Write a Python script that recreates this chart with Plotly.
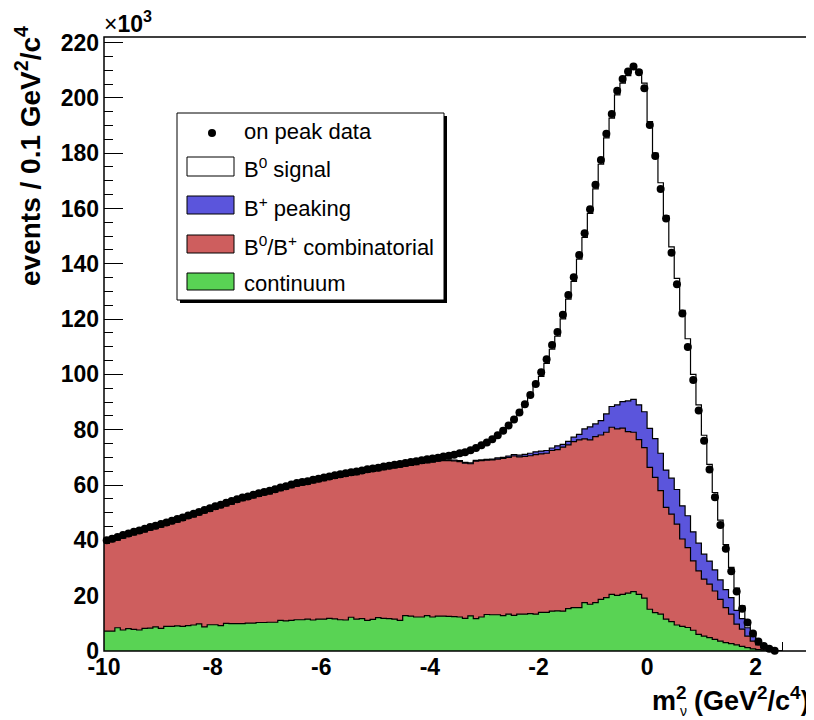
import numpy as np
import plotly.graph_objects as go

# ---------------- data (values in units of 10^3 events per 0.1 GeV^2/c^4) ----------------
BIN_LOW = -10.0
BIN_WIDTH = 0.1
N_BINS = 125

# on-peak data, bins centred at -9.95 ... 2.35
data_k = [
    40.0, 40.6, 41.2, 41.9, 42.5, 43.1, 43.6, 44.2, 44.8, 45.3,
    45.9, 46.5, 47.1, 47.7, 48.3, 49.0, 49.6, 50.3, 51.0, 51.6,
    52.3, 52.9, 53.6, 54.2, 54.9, 55.5, 55.9, 56.5, 57.0, 57.5,
    57.9, 58.5, 59.1, 59.6, 60.2, 60.7, 61.1, 61.4, 61.9, 62.3,
    62.7, 63.1, 63.5, 63.9, 64.3, 64.6, 64.9, 65.3, 65.7, 66.0,
    66.3, 66.7, 67.0, 67.3, 67.6, 68.0, 68.3, 68.6, 69.0, 69.3,
    69.6, 69.9, 70.3, 70.6, 71.0, 71.5, 71.9, 72.6, 73.4, 74.4,
    75.4, 76.6, 78.0, 79.6, 81.5, 83.7, 86.2, 89.2, 92.6, 96.5,
    100.8, 105.5, 110.6, 115.3, 121.6, 128.7, 135.1, 143.2, 151.0, 159.7,
    168.6, 177.5, 187.0, 194.2, 202.6, 206.8, 209.5, 211.3, 209.3, 203.5,
    190.2, 179.0, 167.0, 156.4, 144.0, 132.6, 122.0, 109.9, 98.0, 87.0,
    76.0, 65.6, 55.6, 45.6, 37.0, 28.8, 21.5, 15.3, 10.3, 6.3,
    3.4, 1.8, 0.8, 0.1,
]

continuum_k = [
    7.2, 7.2, 8.4, 7.6, 8.1, 7.8, 7.6, 8.2, 8.3, 8.7,
    8.2, 8.9, 8.9, 9.1, 8.9, 9.2, 9.4, 9.8, 8.7, 9.5,
    9.5, 9.2, 10.0, 9.9, 9.9, 9.9, 10.1, 10.1, 10.3, 10.3,
    10.4, 10.4, 11.1, 10.9, 11.1, 11.3, 11.3, 11.5, 11.2, 11.5,
    11.5, 11.8, 11.6, 11.3, 11.2, 12.2, 11.5, 11.7, 11.1, 11.4,
    12.1, 11.8, 11.7, 11.5, 11.1, 12.8, 12.6, 12.3, 12.3, 12.8,
    12.3, 12.6, 12.6, 12.5, 12.4, 12.3, 11.8, 12.7, 11.7, 12.3,
    13.2, 13.1, 13.1, 12.8, 13.3, 12.9, 13.3, 13.3, 13.5, 13.3,
    14.0, 14.0, 14.4, 14.5, 14.4, 15.3, 15.7, 15.7, 17.5, 16.9,
    17.5, 18.7, 19.3, 20.5, 20.1, 20.5, 20.9, 21.5, 20.5, 19.1,
    15.1, 13.9, 13.3, 11.5, 10.6, 9.4, 8.9, 8.5, 7.5, 6.0,
    5.4, 4.8, 4.2, 3.6, 3.0, 2.7, 2.2, 1.7, 1.2, 0.8,
    0.5, 0.3, 0.1, 0.0, 0.0,
]

combinatorial_k = [
    31.7, 32.3, 31.7, 33.2, 33.3, 34.2, 34.9, 34.9, 35.4, 35.5,
    36.6, 36.5, 37.1, 37.5, 38.3, 38.7, 39.1, 39.4, 41.2, 41.0,
    41.7, 42.6, 42.5, 43.2, 43.9, 44.5, 44.7, 45.3, 45.6, 46.1,
    46.4, 47.0, 46.9, 47.6, 48.0, 48.3, 48.7, 48.8, 49.6, 49.7,
    50.1, 50.2, 50.8, 51.5, 52.0, 51.3, 52.3, 52.5, 53.5, 53.5,
    53.1, 53.8, 54.2, 54.7, 55.4, 54.0, 54.5, 55.1, 55.5, 55.2,
    56.0, 56.0, 56.2, 56.3, 56.3, 56.2, 56.1, 55.0, 56.9, 56.5,
    55.8, 56.0, 56.3, 56.8, 56.7, 57.6, 56.9, 57.1, 57.1, 57.7,
    57.3, 57.5, 58.1, 58.3, 59.3, 59.2, 60.0, 60.6, 59.2, 59.4,
    60.0, 59.4, 59.8, 60.4, 60.2, 60.1, 58.4, 57.6, 55.9, 54.4,
    51.3, 48.9, 44.7, 40.4, 38.9, 36.5, 31.6, 28.9, 25.1, 23.0,
    20.6, 19.4, 17.5, 15.1, 12.7, 10.6, 7.5, 6.2, 4.2, 2.8,
    1.7, 0.7, 0.4, 0.2, 0.0,
]

peaking_k = [
    0.3, 0.3, 0.3, 0.3, 0.3, 0.3, 0.3, 0.3, 0.3, 0.3,
    0.3, 0.3, 0.3, 0.3, 0.3, 0.3, 0.3, 0.3, 0.3, 0.3,
    0.3, 0.3, 0.3, 0.3, 0.3, 0.3, 0.3, 0.3, 0.3, 0.3,
    0.3, 0.3, 0.3, 0.3, 0.3, 0.3, 0.3, 0.3, 0.3, 0.3,
    0.3, 0.3, 0.3, 0.3, 0.3, 0.3, 0.3, 0.3, 0.3, 0.3,
    0.3, 0.3, 0.3, 0.3, 0.3, 0.3, 0.3, 0.3, 0.3, 0.3,
    0.3, 0.3, 0.3, 0.3, 0.3, 0.3, 0.3, 0.3, 0.3, 0.3,
    0.3, 0.3, 0.4, 0.4, 0.5, 0.5, 0.6, 0.7, 0.9, 1.0,
    1.0, 1.0, 0.9, 1.4, 1.0, 1.3, 1.6, 2.0, 3.6, 4.7,
    4.6, 5.2, 6.6, 7.5, 8.7, 9.6, 11.1, 11.9, 12.6, 13.0,
    14.1, 14.0, 13.5, 13.5, 13.0, 12.5, 12.0, 11.5, 10.5, 10.0,
    9.0, 8.3, 7.6, 7.0, 6.5, 6.0, 5.0, 3.8, 3.0, 2.2,
    1.5, 1.0, 0.5, 0.1, 0.0,
]

signal_k = [
    0.8, 0.8, 0.8, 0.8, 0.8, 0.8, 0.8, 0.8, 0.8, 0.8,
    0.8, 0.8, 0.8, 0.8, 0.8, 0.8, 0.8, 0.8, 0.8, 0.8,
    0.8, 0.8, 0.8, 0.8, 0.8, 0.8, 0.8, 0.8, 0.8, 0.8,
    0.8, 0.8, 0.8, 0.8, 0.8, 0.8, 0.8, 0.8, 0.8, 0.8,
    0.8, 0.8, 0.8, 0.8, 0.8, 0.8, 0.8, 0.8, 0.8, 0.8,
    0.8, 0.8, 0.8, 0.8, 0.8, 0.9, 0.9, 0.9, 0.9, 1.0,
    1.0, 1.0, 1.2, 1.5, 2.0, 2.7, 3.7, 4.6, 4.5, 5.3,
    6.1, 7.2, 8.2, 9.6, 11.0, 12.7, 15.4, 18.1, 21.1, 24.5,
    27.0, 31.5, 35.7, 39.6, 45.4, 51.4, 56.3, 63.4, 69.2, 77.2,
    85.0, 92.7, 99.8, 104.3, 112.1, 115.1, 117.6, 120.6, 121.0, 118.8,
    110.9, 103.2, 97.8, 92.0, 83.6, 76.3, 70.7, 64.0, 56.9, 50.0,
    43.0, 35.0, 28.0, 21.6, 16.3, 10.9, 8.0, 4.6, 2.6, 1.0,
    0.1, 0.0, 0.0, 0.0, 0.0,
]

x_tick_vals = [-10, -8, -6, -4, -2, 0, 2]
x_tick_text = ["-10", "-8", "-6", "-4", "-2", "0", "2"]
y_tick_vals = [0, 20, 40, 60, 80, 100, 120, 140, 160, 180, 200, 220]
y_tick_text = ["0", "20", "40", "60", "80", "100", "120", "140", "160", "180", "200", "220"]

legend_labels = ["on peak data", "B<sup>0</sup> signal", "B<sup>+</sup> peaking",
                 "B<sup>0</sup>/B<sup>+</sup> combinatorial", "continuum"]

# ---------------- styling ----------------
C_GREEN = "#59d354"
C_RED = "#ce5e5e"
C_BLUE = "#5b55dc"
FONT = "Liberation Sans"

# the page body has an 8 px margin, so the figure is drawn 8 px right/down
OFF = 8
W, H = 806, 712
ML, MR, MT, MB = 96, 4, 29, 69
PW, PH = W - ML - MR, H - MT - MB


def px_x(px):
    """screen pixel x -> paper x"""
    return (px - OFF - ML) / PW


def px_y(py):
    """screen pixel y -> paper y"""
    return (H - MB - (py - OFF)) / PH


edges = BIN_LOW + BIN_WIDTH * np.arange(N_BINS + 1)
centers = edges[:-1] + BIN_WIDTH / 2

lvl_green = np.array(continuum_k)
lvl_red = lvl_green + np.array(combinatorial_k)
lvl_blue = lvl_red + np.array(peaking_k)
lvl_total = lvl_blue + np.array(signal_k)


def step_trace(levels, fill):
    ys = list(levels) + [0.0]
    return go.Scatter(
        x=list(edges), y=ys, mode="lines", line=dict(shape="hv", color="black", width=1.2),
        fill="tozeroy", fillcolor=fill, hoverinfo="skip", showlegend=False,
    )


fig = go.Figure()
fig.add_trace(step_trace(lvl_total, "white"))
fig.add_trace(step_trace(lvl_blue, C_BLUE))
fig.add_trace(step_trace(lvl_red, C_RED))
fig.add_trace(step_trace(lvl_green, C_GREEN))
fig.add_trace(go.Scatter(
    x=list(centers[:len(data_k)]), y=data_k, mode="markers",
    marker=dict(size=8, color="black"), showlegend=False, cliponaxis=False,
))

tickfont = dict(family=FONT, size=23, color="black", weight="bold")

fig.update_xaxes(
    range=[-10, 3], tickmode="array", tickvals=x_tick_vals, ticktext=x_tick_text,
    ticks="inside", ticklen=19, tickwidth=1, tickcolor="black",
    minor=dict(tickmode="array", tickvals=list(np.arange(-10, 3.01, 0.5)), ticks="inside",
               ticklen=9, tickwidth=1, tickcolor="black"),
    showgrid=False, zeroline=False, showline=False, layer="below traces",
    tickfont=tickfont, automargin=False,
)
fig.update_yaxes(
    range=[0, 222], tickmode="array", tickvals=y_tick_vals, ticktext=y_tick_text,
    ticks="inside", ticklen=19, tickwidth=1, tickcolor="black",
    minor=dict(tickmode="array", tickvals=list(np.arange(0, 222, 5)), ticks="inside",
               ticklen=9, tickwidth=1, tickcolor="black"),
    showgrid=False, zeroline=False, showline=False, layer="below traces",
    tickfont=tickfont, ticklabelstandoff=4, automargin=False,
)

shapes = [
    dict(type="rect", xref="paper", yref="paper", x0=0, x1=1, y0=0, y1=1,
         line=dict(color="black", width=1.5), layer="above"),
    # legend shadow and box
    dict(type="rect", xref="paper", yref="paper", x0=px_x(180), x1=px_x(447),
         y0=px_y(303), y1=px_y(116), fillcolor="black", line=dict(width=0), layer="above"),
    dict(type="rect", xref="paper", yref="paper", x0=px_x(177), x1=px_x(444),
         y0=px_y(300), y1=px_y(113), fillcolor="white", line=dict(color="black", width=1),
         layer="above"),
]
legend_rows = [132, 168, 207, 246, 283]
legend_fills = [None, "white", C_BLUE, C_RED, C_GREEN]
legend_boxes = [None, (157, 176), (196, 214), (235, 253), (273, 290)]
for fillc, box in zip(legend_fills[1:], legend_boxes[1:]):
    shapes.append(dict(type="rect", xref="paper", yref="paper", x0=px_x(187), x1=px_x(234),
                       y0=px_y(box[1]), y1=px_y(box[0]), fillcolor=fillc,
                       line=dict(color="black", width=1), layer="above"))
# legend marker
shapes.append(dict(type="circle", xref="paper", yref="paper", x0=px_x(208), x1=px_x(216),
                   y0=px_y(137), y1=px_y(129), fillcolor="black", line=dict(width=0),
                   layer="above"))

annotations = []
for lab, row in zip(legend_labels, legend_rows):
    annotations.append(dict(xref="paper", yref="paper", x=px_x(242), y=px_y(row), text=lab,
                            showarrow=False, xanchor="left", yanchor="middle",
                            font=dict(family=FONT, size=22, color="black")))

annotations.append(dict(xref="paper", yref="paper", x=px_x(102), y=px_y(22),
                        text="×<b>10<sup>3</sup></b>", showarrow=False, xanchor="left",
                        yanchor="middle", font=dict(family=FONT, size=23, color="black")))
annotations.append(dict(xref="paper", yref="paper", x=px_x(28), y=px_y(24),
                        text="<b>events / 0.1 GeV<sup>2</sup>/c<sup>4</sup></b>", textangle=-90,
                        showarrow=False, xanchor="center", yanchor="top",
                        font=dict(family=FONT, size=28, color="black")))
annotations.append(dict(xref="paper", yref="paper", x=px_x(812), y=px_y(699),
                        text="<b>m<sup>2</sup> (GeV<sup>2</sup>/c<sup>4</sup>)</b>",
                        showarrow=False, xanchor="right", yanchor="middle",
                        font=dict(family=FONT, size=27, color="black")))
annotations.append(dict(xref="paper", yref="paper", x=px_x(683), y=px_y(711),
                        text="ν", showarrow=False, xanchor="center", yanchor="middle",
                        font=dict(family=FONT, size=14, color="black")))

fig.update_layout(
    width=W, height=H, autosize=False,
    margin=dict(l=ML, r=MR, t=MT, b=MB, autoexpand=False),
    paper_bgcolor="white", plot_bgcolor="white",
    showlegend=False, shapes=shapes, annotations=annotations,
)

fig.write_html("out.html")
